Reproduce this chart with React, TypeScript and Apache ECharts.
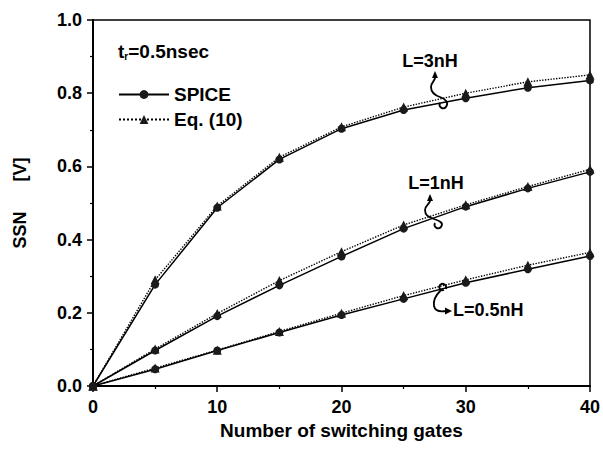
import React, { useEffect, useRef } from "react";
import * as echarts from "echarts";

// Number of simultaneously switching gates
const gates = [0, 5, 10, 15, 20, 25, 30, 35, 40];

// SSN [V], L = 3 nH
const spice3nH = [0, 0.277, 0.487, 0.619, 0.703, 0.754, 0.786, 0.815, 0.835];
const eq3nH = [0, 0.29, 0.492, 0.625, 0.708, 0.762, 0.8, 0.831, 0.85];

// SSN [V], L = 1 nH
const spice1nH = [0, 0.097, 0.191, 0.275, 0.354, 0.43, 0.49, 0.54, 0.585];
const eq1nH = [0, 0.101, 0.198, 0.288, 0.367, 0.44, 0.495, 0.545, 0.592];

// SSN [V], L = 0.5 nH
const spice05nH = [0, 0.046, 0.097, 0.146, 0.194, 0.238, 0.282, 0.319, 0.355];
const eq05nH = [0, 0.049, 0.098, 0.149, 0.199, 0.247, 0.29, 0.33, 0.365];

const xTicks = [0, 10, 20, 30, 40];
const yTicks = [0, 0.2, 0.4, 0.6, 0.8, 1.0];

const FONT = "Liberation Sans";
const INK = "#000";

// curly leader lines from the inductance labels to their curves
const leader3nH =
  "M435,77 C436,80 431,82 431,87 C431,92 434,95 440,97 C446,99 449,103 446,107 C443,110 438,107 440,103";
const leader1nH =
  "M430,200 C431,203 425,205 425,210 C425,215 428,217 434,219 C440,221 444,223 441,227 C438,230 433,227 435,223";
const leader05nH =
  "M446,289 C447,285 443,282 440,285 C438,288 441,291 444,290 M441,290 C436,295 433,301 434,306 C435,311 440,312 446,311";

echarts.graphic.registerShape("leader3nH", echarts.graphic.extendPath(leader3nH, {}));
echarts.graphic.registerShape("leader1nH", echarts.graphic.extendPath(leader1nH, {}));
echarts.graphic.registerShape("leader05nH", echarts.graphic.extendPath(leader05nH, {}));

const pairs = (ys: number[]) => gates.map((g, i) => [g, ys[i]]);

function spiceSeries(ys: number[]) {
  return {
    name: "SPICE",
    type: "line",
    data: pairs(ys),
    symbol: "circle",
    symbolSize: 8,
    z: 3,
    lineStyle: { color: INK, width: 1.5, type: "solid" },
    itemStyle: { color: "#1a1a1a" },
  };
}

function eqSeries(ys: number[]) {
  return {
    name: "Eq. (10)",
    type: "line",
    data: pairs(ys),
    symbol: "triangle",
    symbolSize: 9,
    z: 2,
    lineStyle: { color: INK, width: 1.4, type: "dotted" },
    itemStyle: { color: "#1a1a1a" },
  };
}

const labelStyle = { fontFamily: FONT, fontWeight: "bold", fontSize: 18, fill: INK };
const leaderStyle = { fill: "none", stroke: INK, lineWidth: 1.8 };

export default function App() {
  const ref = useRef<HTMLDivElement>(null);

  useEffect(() => {
    if (!ref.current) return;
    const chart = echarts.init(ref.current, null, { renderer: "svg" });
    chart.setOption({
      animation: false,
      backgroundColor: "#fff",
      grid: {
        left: 93,
        right: 11,
        top: 20,
        bottom: 65,
        show: true,
        borderColor: INK,
        borderWidth: 1.5,
        backgroundColor: "transparent",
      },
      legend: {
        data: ["SPICE", "Eq. (10)"],
        orient: "vertical",
        left: 113,
        top: 80,
        itemWidth: 50,
        itemHeight: 11,
        itemGap: 6,
        textStyle: { fontFamily: FONT, fontWeight: "bold", fontSize: 19, color: INK },
      },
      xAxis: {
        type: "value",
        min: xTicks[0],
        max: xTicks[xTicks.length - 1],
        interval: 10,
        name: "Number of switching gates",
        nameLocation: "middle",
        nameGap: 35,
        nameTextStyle: { fontFamily: FONT, fontWeight: "bold", fontSize: 19, color: INK },
        axisLine: { lineStyle: { color: INK, width: 2 } },
        axisTick: { inside: false, length: 6, lineStyle: { color: INK, width: 1.5 } },
        minorTick: { show: true, splitNumber: 2, length: 3, lineStyle: { color: INK, width: 1.2 } },
        splitLine: { show: false },
        axisLabel: { fontFamily: FONT, fontWeight: "bold", fontSize: 18, color: INK, margin: 12 },
      },
      yAxis: {
        type: "value",
        min: yTicks[0],
        max: yTicks[yTicks.length - 1],
        interval: 0.2,
        name: "SSN      [V]",
        nameLocation: "middle",
        nameGap: 64,
        nameTextStyle: { fontFamily: FONT, fontWeight: "bold", fontSize: 18, color: INK },
        axisLine: { lineStyle: { color: INK, width: 2 } },
        axisTick: { inside: false, length: 6, lineStyle: { color: INK, width: 1.5 } },
        minorTick: { show: true, splitNumber: 2, length: 3, lineStyle: { color: INK, width: 1.2 } },
        splitLine: { show: false },
        axisLabel: {
          fontFamily: FONT,
          fontWeight: "bold",
          fontSize: 18,
          color: INK,
          margin: 11,
          formatter: (v: number) => v.toFixed(1),
        },
      },
      series: [
        eqSeries(eq3nH),
        eqSeries(eq1nH),
        eqSeries(eq05nH),
        spiceSeries(spice3nH),
        spiceSeries(spice1nH),
        spiceSeries(spice05nH),
      ],
      graphic: [
        {
          type: "text",
          left: 118,
          top: 42,
          style: {
            text: "{t|t}{s|r}{t|=0.5nsec}",
            rich: {
              t: { fontFamily: FONT, fontWeight: "bold", fontSize: 19, fill: INK },
              s: {
                fontFamily: FONT,
                fontWeight: "bold",
                fontSize: 10,
                fill: INK,
                verticalAlign: "bottom",
                padding: [10, 0, 0, 0],
              },
            },
          },
        },
        { type: "text", x: 430, y: 61, style: { ...labelStyle, text: "L=3nH", align: "center", verticalAlign: "middle" } },
        { type: "text", x: 436, y: 183, style: { ...labelStyle, text: "L=1nH", align: "center", verticalAlign: "middle" } },
        { type: "text", x: 453, y: 310, style: { ...labelStyle, text: "L=0.5nH", align: "left", verticalAlign: "middle" } },
        { type: "leader3nH", style: leaderStyle },
        { type: "leader1nH", style: leaderStyle },
        { type: "leader05nH", style: leaderStyle },
        { type: "polygon", shape: { points: [[435, 71], [432, 78], [438, 78]] }, style: { fill: INK } },
        { type: "polygon", shape: { points: [[430, 194], [427, 201], [433, 201]] }, style: { fill: INK } },
        { type: "polygon", shape: { points: [[452, 311], [445, 307.5], [445, 314.5]] }, style: { fill: INK } },
      ],
    });
    return () => chart.dispose();
  }, []);

  return (
    <div
      ref={ref}
      style={{ position: "fixed", left: 0, top: 0, width: 603, height: 451, background: "#fff" }}
    />
  );
}
